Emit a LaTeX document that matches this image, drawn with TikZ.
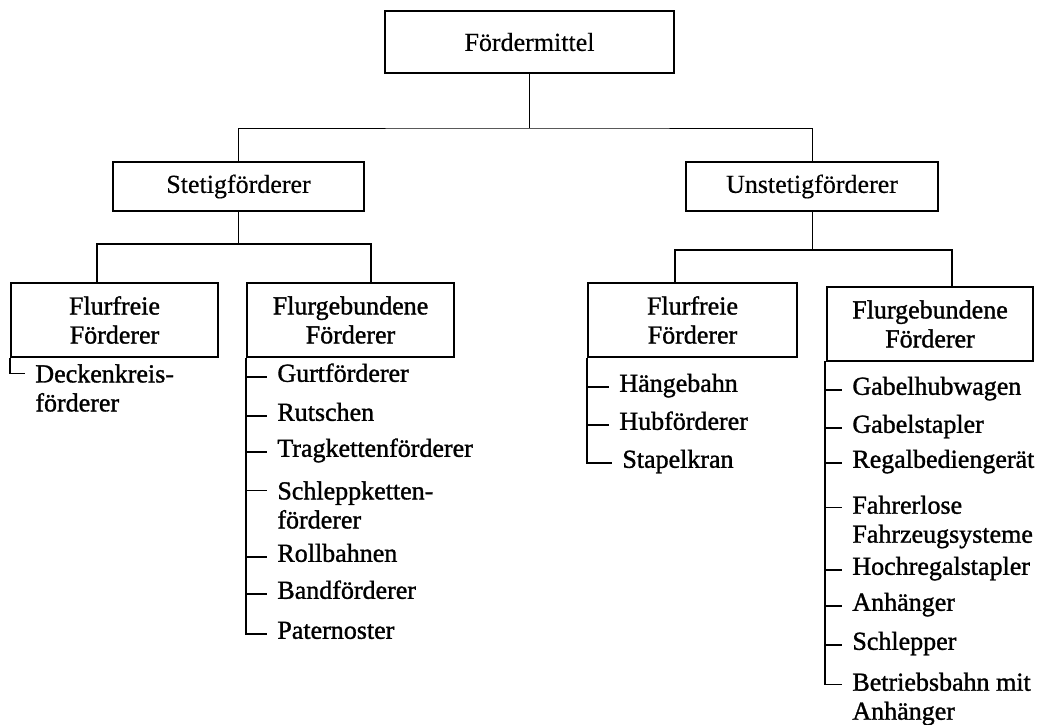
\documentclass[tikz,border=0pt]{standalone}
\usepackage{fontspec}
\setmainfont{Liberation Serif}
\newfontfamily\heavyfont[FakeBold=1.2]{Liberation Serif}
\newfontfamily\lightfont[FakeBold=0.4]{Liberation Serif}
\begin{document}
\begin{tikzpicture}[x=0.5pt,y=-0.5pt,
  topbox/.style={draw, line width=1pt, inner sep=0pt, align=center,
    font=\lightfont\fontsize{13}{14.5}\selectfont},
  subbox/.style={draw, line width=1pt, inner sep=0pt, align=center,
    font=\heavyfont\fontsize{13}{14.5}\selectfont},
  itemone/.style={anchor=west, inner xsep=5pt, inner ysep=0pt,
    text height=0.7em, text depth=0.22em,
    font=\heavyfont\fontsize{13}{14.5}\selectfont},
  itemtwo/.style={anchor=west, inner xsep=5pt, inner ysep=0pt, align=left,
    font=\heavyfont\fontsize{13}{14.5}\selectfont},
  thin/.style={line width=0.5pt},
  link/.style={line width=0.8pt},
  list/.style={line width=0.9pt}]
\useasboundingbox (0,0) rectangle (1040,724);
\fill[white] (0,0) rectangle (1040,724);

% top levels
\node[topbox, minimum width=144.5pt, minimum height=31pt] (top) at (529.5,42) {Fördermittel};
\node[topbox, minimum width=125.5pt, minimum height=24.5pt] (stetig) at (238.5,186.5) {Stetigförderer};
\node[topbox, minimum width=126pt, minimum height=24.5pt] (unstetig) at (812,186.5) {Unstetigförderer};

% second levels
\node[subbox, minimum width=103.5pt, minimum height=37pt] (lff) at (114.5,320) {Flurfreie\\Förderer};
\node[subbox, minimum width=103.5pt, minimum height=37pt] (lfg) at (350.5,320) {Flurgebundene\\Förderer};
\node[subbox, minimum width=104.5pt, minimum height=37pt] (rff) at (692.5,320) {Flurfreie\\Förderer};
\node[subbox, minimum width=103pt, minimum height=37pt] (rfg) at (930,324) {Flurgebundene\\Förderer};

% connectors top
\coordinate (h1) at (529.5,128);
\draw[thin] (top.south) -- (h1);
\draw[thin] (stetig.north) |- (h1) -| (unstetig.north);

\coordinate (h2) at (238.5,244);
\coordinate (c1) at (97,283);
\coordinate (c2) at (371,283);
\draw[thin] (stetig.south) -- (h2);
\draw[link] (c1) |- (h2) -| (c2);

\coordinate (h3) at (812,250);
\coordinate (c3) at (675,283);
\coordinate (c4) at (952,287);
\draw[thin] (unstetig.south) -- (h3);
\draw[link] (c3) |- (h3) -| (c4);

% left flurfreie list
\node[itemtwo] (deck) at (25,388) {Deckenkreis-\\förderer};
\coordinate (deckw) at ([yshift=7.25pt]deck.west);
\draw[list] (lff.south west) |- (deckw);

% left flurgebundene list
\node[itemone] (gurt) at (267,377) {Gurtförderer};
\node[itemone] (rut) at (267,416) {Rutschen};
\node[itemone] (trag) at (267,452) {Tragkettenförderer};
\node[itemtwo] (schl) at (267,505) {Schleppketten-\\förderer};
\node[itemone] (roll) at (267,557) {Rollbahnen};
\node[itemone] (band) at (267,594) {Bandförderer};
\node[itemone] (pat) at (267,634) {Paternoster};
\coordinate (schlw) at ([yshift=7.25pt]schl.west);
\draw[list] (lfg.south west) |- (pat.west);
\foreach \n in {gurt,rut,trag,roll,band,schlw}
  \draw[list] (lfg.south west |- \n) -- (\n);

% right flurfreie list
\node[itemone] (haenge) at (609,387) {Hängebahn};
\node[itemone] (hub) at (609,425) {Hubförderer};
\node[itemone] (stapel) at (612,463) {Stapelkran};
\draw[list] (rff.south west) |- (stapel.west);
\foreach \n in {haenge,hub}
  \draw[list] (rff.south west |- \n.west) -- (\n.west);

% right flurgebundene list
\node[itemone] (gh) at (842,390) {Gabelhubwagen};
\node[itemone] (gs) at (842,428) {Gabelstapler};
\node[itemone] (rb) at (842,463) {Regalbediengerät};
\node[itemtwo] (fts) at (842,522) {Fahrerlose\\Fahrzeugsysteme};
\node[itemone] (hr) at (842,570) {Hochregalstapler};
\node[itemone] (an) at (842,606) {Anhänger};
\node[itemone] (sc) at (842,645) {Schlepper};
\node[itemtwo] (bb) at (842,699) {Betriebsbahn mit\\Anhänger};
\coordinate (ftsw) at ([yshift=7.25pt]fts.west);
\coordinate (bbw) at ([yshift=7.25pt]bb.west);
\coordinate (rfgl) at (825,361);
\draw[list] (rfgl) |- (bbw);
\foreach \n in {gh,gs,rb,hr,an,sc}
  \draw[list] (rfgl |- \n.west) -- (\n.west);
\draw[list] (rfgl |- ftsw) -- (ftsw);
\end{tikzpicture}
\end{document}
